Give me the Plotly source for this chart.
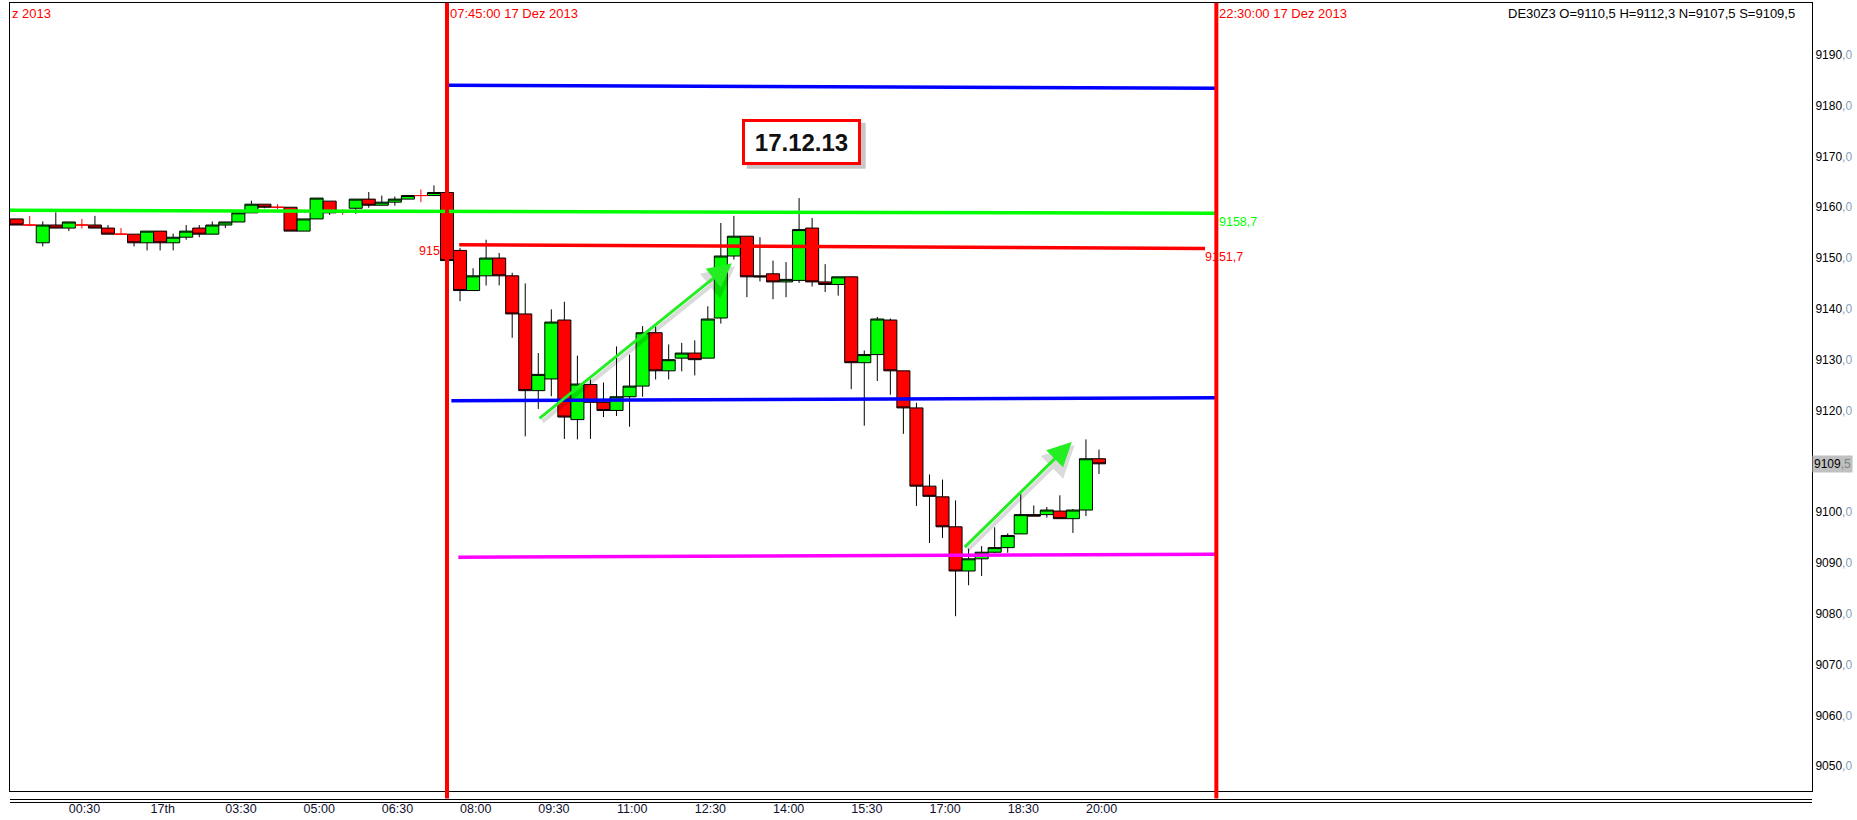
import pandas as pd
import plotly.graph_objects as go

# 15 minute candles DE30Z3, night of 16th -> 17 Dec 2013
times = ["23:30", "23:45",
         "00:00", "00:15", "00:30", "00:45", "01:00", "01:15", "01:30", "01:45",
         "02:00", "02:15", "02:30", "02:45", "03:00", "03:15", "03:30", "03:45",
         "04:00", "04:15", "04:30", "04:45", "05:00", "05:15", "05:30", "05:45",
         "06:00", "06:15", "06:30", "06:45", "07:00", "07:15", "07:30", "07:45",
         "08:00", "08:15", "08:30", "08:45", "09:00", "09:15", "09:30", "09:45",
         "10:00", "10:15", "10:30", "10:45", "11:00", "11:15", "11:30", "11:45",
         "12:00", "12:15", "12:30", "12:45", "13:00", "13:15", "13:30", "13:45",
         "14:00", "14:15", "14:30", "14:45", "15:00", "15:15", "15:30", "15:45",
         "16:00", "16:15", "16:30", "16:45", "17:00", "17:15", "17:30", "17:45",
         "18:00", "18:15", "18:30", "18:45", "19:00", "19:15", "19:30", "19:45",
         "20:00", "20:15"]

opens = [9157.7, 9156.5, 9153.0, 9156.5, 9155.9, 9156.5, 9156.5, 9155.9, 9154.7, 9154.7,
         9153.0, 9155.3, 9153.0, 9154.1, 9155.9, 9154.7, 9156.5, 9157.1, 9158.9, 9160.6,
         9160.0, 9160.0, 9155.3, 9157.7, 9161.2, 9159.0, 9159.8, 9161.6, 9160.4, 9161.0,
         9161.6, 9162.3, 9162.3, 9162.9, 9151.5, 9143.6, 9146.5, 9150.0, 9146.5, 9139.0,
         9123.9, 9126.2, 9137.8, 9118.2, 9125.1, 9121.6, 9120.0, 9122.7, 9124.8, 9135.3,
         9127.8, 9130.3, 9131.3, 9130.3, 9138.2, 9150.4, 9154.3, 9146.5, 9146.9, 9145.3,
         9145.6, 9155.9, 9145.3, 9144.8, 9146.3, 9129.4, 9131.0, 9137.8, 9127.8, 9120.5,
         9105.1, 9103.0, 9097.1, 9088.4, 9090.8, 9092.1, 9093.0, 9095.7, 9099.5, 9099.5,
         9100.2, 9098.7, 9100.4, 9110.5]
highs = [9157.7, 9158.3, 9157.2, 9159.0, 9157.1, 9157.7, 9158.3, 9156.5, 9155.9, 9154.7,
         9155.3, 9155.3, 9154.8, 9156.5, 9156.5, 9157.2, 9157.1, 9158.9, 9161.3, 9160.6,
         9160.6, 9160.0, 9157.7, 9161.8, 9161.2, 9159.6, 9161.6, 9163.0, 9162.3, 9162.1,
         9162.3, 9163.5, 9164.3, 9164.2, 9152.0, 9148.0, 9153.6, 9151.0, 9147.1, 9145.0,
         9131.3, 9139.9, 9141.4, 9130.8, 9126.1, 9125.5, 9132.6, 9131.0, 9136.6, 9136.6,
         9133.0, 9133.3, 9133.8, 9140.5, 9156.9, 9158.3, 9154.3, 9154.1, 9149.5, 9149.2,
         9161.8, 9157.9, 9148.8, 9146.3, 9146.4, 9131.8, 9138.4, 9138.1, 9127.8, 9121.5,
         9107.4, 9106.4, 9102.3, 9092.8, 9093.3, 9097.0, 9095.8, 9103.7, 9101.3, 9101.0,
         9103.3, 9100.6, 9114.3, 9112.3]
lows = [9156.5, 9156.5, 9152.3, 9155.9, 9155.3, 9155.8, 9155.9, 9154.7, 9154.7, 9152.3,
        9151.5, 9151.5, 9151.5, 9153.6, 9154.1, 9154.7, 9155.9, 9157.1, 9158.9, 9159.8,
        9159.6, 9155.3, 9155.3, 9157.7, 9158.5, 9158.5, 9158.7, 9159.9, 9160.4, 9160.3,
        9161.6, 9161.0, 9162.3, 9149.5, 9141.5, 9143.6, 9144.6, 9144.6, 9134.3, 9114.9,
        9120.3, 9122.8, 9114.4, 9114.3, 9114.4, 9118.7, 9118.9, 9116.8, 9122.7, 9126.1,
        9126.1, 9127.7, 9126.9, 9130.3, 9137.1, 9149.7, 9142.3, 9145.4, 9141.9, 9142.3,
        9145.1, 9144.4, 9143.3, 9142.6, 9124.2, 9117.0, 9125.8, 9123.1, 9115.4, 9101.2,
        9093.9, 9094.9, 9079.5, 9085.6, 9087.4, 9091.9, 9092.0, 9095.7, 9099.2, 9098.9,
        9098.7, 9095.9, 9099.2, 9107.5]
closes = [9156.5, 9156.5, 9156.5, 9155.9, 9157.1, 9156.5, 9155.9, 9154.7, 9154.7, 9153.0,
          9155.3, 9153.0, 9154.1, 9155.3, 9154.7, 9156.5, 9157.1, 9158.9, 9160.6, 9160.0,
          9160.0, 9155.3, 9157.7, 9161.8, 9158.9, 9159.0, 9161.6, 9160.4, 9161.0, 9161.6,
          9162.3, 9162.3, 9162.9, 9149.5, 9143.6, 9146.5, 9150.0, 9146.5, 9139.0, 9123.9,
          9127.1, 9137.4, 9118.7, 9125.2, 9121.6, 9120.0, 9122.7, 9124.8, 9135.3, 9127.8,
          9130.0, 9131.3, 9130.0, 9138.0, 9150.4, 9154.3, 9146.3, 9146.3, 9145.3, 9145.8,
          9155.6, 9145.3, 9144.8, 9146.3, 9129.4, 9131.0, 9138.0, 9127.8, 9120.5, 9105.1,
          9103.1, 9097.1, 9088.4, 9090.8, 9092.1, 9093.0, 9095.4, 9099.5, 9099.2, 9100.4,
          9098.7, 9100.4, 9110.5, 9109.5]

# drawn horizontal levels
level_start = ["2013-12-16 23:15", "2013-12-17 07:59", "2013-12-17 07:45", "2013-12-17 07:50", "2013-12-17 07:58"]
level_end = ["2013-12-17 22:30", "2013-12-17 22:17", "2013-12-17 22:30", "2013-12-17 22:30", "2013-12-17 22:30"]
level_y0 = [9159.4, 9152.6, 9184.0, 9121.9, 9091.1]
level_y1 = [9158.8, 9151.9, 9183.4, 9122.5, 9091.7]
level_color = ["#00ff00", "#ff0000", "#0000ff", "#0000ff", "#ff00ff"]

# x tick labels
tick_times = ["00:30", "02:00", "03:30", "05:00", "06:30", "08:00", "09:30",
              "11:00", "12:30", "14:00", "15:30", "17:00", "18:30", "20:00"]
tick_text = ["00:30", "17th", "03:30", "05:00", "06:30", "08:00", "09:30",
             "11:00", "12:30", "14:00", "15:30", "17:00", "18:30", "20:00"]
price_ticks = [9050, 9060, 9070, 9080, 9090, 9100, 9120, 9130, 9140, 9150, 9160, 9170, 9180, 9190]

session_lines = ["2013-12-17 07:45", "2013-12-17 22:30"]

df = pd.DataFrame({'time': times, 'open': opens, 'high': highs, 'low': lows, 'close': closes})
df['dt'] = pd.to_datetime('2013-12-17 ' + df['time'])
df.loc[df['time'] >= '23:00', 'dt'] -= pd.Timedelta(days=1)
doji = df['open'] == df['close']

FONT = 'Liberation Sans, Arial, sans-serif'

fig = go.Figure()

fig.add_trace(go.Candlestick(
    x=df[~doji]['dt'], open=df[~doji]['open'], high=df[~doji]['high'],
    low=df[~doji]['low'], close=df[~doji]['close'],
    increasing=dict(fillcolor='#00ff00', line=dict(color='black', width=1)),
    decreasing=dict(fillcolor='#ff0000', line=dict(color='black', width=1)),
    whiskerwidth=0, showlegend=False))

# dojis are drawn as red crosses
fig.add_trace(go.Candlestick(
    x=df[doji]['dt'], open=df[doji]['open'], high=df[doji]['high'],
    low=df[doji]['low'], close=df[doji]['close'],
    increasing=dict(fillcolor='#ff0000', line=dict(color='#ff0000', width=1)),
    decreasing=dict(fillcolor='#ff0000', line=dict(color='#ff0000', width=1)),
    whiskerwidth=0, showlegend=False))

for x0, x1, y0, y1, c in zip(level_start, level_end, level_y0, level_y1, level_color):
    fig.add_trace(go.Scatter(x=[x0, x1], y=[y0, y1], mode='lines',
                             line=dict(color=c, width=3.5), showlegend=False, hoverinfo='skip'))

for t in session_lines:
    fig.add_shape(type='line', x0=t, x1=t, xref='x', yref='paper', y0=-0.0095, y1=1,
                  line=dict(color='#ff0000', width=4), layer='above')
    fig.add_annotation(x=t, xref='x', y=1, yref='paper', xanchor='left', yanchor='top',
                       xshift=1, yshift=-1, showarrow=False,
                       text=pd.Timestamp(t).strftime('%H:%M:%S 17 Dez 2013'),
                       font=dict(family=FONT, size=13, color='#ff0000'))

# double separator line under the plot
for yy in [-0.0108, -0.0146]:
    fig.add_shape(type='line', xref='paper', yref='paper', x0=0, x1=1, y0=yy, y1=yy,
                  line=dict(color='black', width=1.2))

fig.add_annotation(x=0, xref='paper', y=1, yref='paper', xanchor='left', yanchor='top',
                   yshift=-1, showarrow=False, text='z 2013',
                   font=dict(family=FONT, size=13, color='#ff0000'))
fig.add_annotation(x=0.9917, xref='paper', y=1, yref='paper', xanchor='right', yanchor='top',
                   yshift=-1, showarrow=False,
                   text='DE30Z3 O=9110,5 H=9112,3 N=9107,5 S=9109,5',
                   font=dict(family=FONT, size=13, color='black'))

# level value labels
fig.add_annotation(x=level_end[0], y=level_y1[0], xanchor='left', yanchor='top', xshift=1,
                   showarrow=False, text='9158,7', font=dict(family=FONT, size=12.5, color='#00ff00'))
fig.add_annotation(x=level_end[1], y=level_y1[1], xanchor='left', yanchor='top', xshift=-2,
                   showarrow=False, text='9151,7', font=dict(family=FONT, size=12.5, color='#ff0000'))
fig.add_annotation(x=session_lines[0], y=9151.3, xanchor='right', xshift=-5,
                   showarrow=False, text='915', font=dict(family=FONT, size=12.5, color='#ff0000'))

# current price marker on the price scale
fig.add_annotation(x=1, xref='paper', y=closes[-1], xanchor='left', xshift=0, showarrow=False,
                   text="9109<span style='color:#808080'>,5</span>", bgcolor='#c0c0c0', borderpad=1,
                   font=dict(family=FONT, size=12, color='black'))

# trend arrows (shadow first)
arrows = [("2013-12-17 09:29:40", 9118.2, "2013-12-17 13:12:50", 9149.0),
          ("2013-12-17 17:38:50", 9092.8, "2013-12-17 19:43:40", 9113.8)]
for ax, ay, x, y in arrows:
    fig.add_annotation(x=x, y=y, ax=ax, ay=ay, axref='x', ayref='y', text='', showarrow=True,
                       arrowhead=2, arrowsize=1.6, arrowwidth=4, arrowcolor='rgba(0,0,0,0.14)',
                       xshift=3, yshift=-3)
    fig.add_annotation(x=x, y=y, ax=ax, ay=ay, axref='x', ayref='y', text='', showarrow=True,
                       arrowhead=2, arrowsize=1.6, arrowwidth=3, arrowcolor='#22ee22')

# date box with a drop shadow
box_x, box_y = "2013-12-17 14:33", 9172.9
fig.add_shape(type='rect', xref='x', yref='y', xsizemode='pixel', ysizemode='pixel',
              xanchor=box_x, yanchor=box_y, x0=-55, x1=64, y0=-27, y1=19,
              fillcolor='rgba(0,0,0,0.22)', line=dict(width=0), layer='above')
fig.add_annotation(x=box_x, y=box_y, text='<b>17.12.13</b>', showarrow=False,
                   width=107, height=34, borderpad=3, borderwidth=3, bordercolor='#ff0000',
                   bgcolor='white', font=dict(family=FONT, size=24, color='#111111'))

fig.update_layout(
    width=1857, height=820,
    margin=dict(l=10, r=45, t=3, b=29),
    plot_bgcolor='white', paper_bgcolor='white',
    boxgap=0, boxgroupgap=0, showlegend=False,
    font=dict(family=FONT, size=12, color='black'),
)
fig.update_xaxes(
    type='date', range=["2013-12-16 23:22:18", "2013-12-18 09:55:12"],
    rangeslider=dict(visible=False), automargin=False,
    # labels sit ~18 min right of the bar time in the original platform
    tickvals=[pd.Timestamp('2013-12-17 ' + t) + pd.Timedelta(minutes=18) for t in tick_times],
    ticktext=tick_text, ticks='', showgrid=False, zeroline=False,
    showline=True, mirror=True, linecolor='black', linewidth=1,
    tickfont=dict(family=FONT, size=12.5, color='#101030'), ticklabelstandoff=6,
)
fig.update_yaxes(
    range=[9045.1, 9200.2], side='right', tickvals=price_ticks, automargin=False,
    ticktext=[f"{v}<span style='color:#8aa0b8'>,0</span>" for v in price_ticks],
    ticks='', showgrid=False, zeroline=False,
    showline=True, mirror=True, linecolor='black', linewidth=1,
    tickfont=dict(family=FONT, size=12, color='black'), ticklabelstandoff=0,
)

# page body has a default margin; drop it so the figure sits at the window corner
fig.write_html("out.html", config={'displayModeBar': False},
               post_script="document.body.style.margin='0px';")
